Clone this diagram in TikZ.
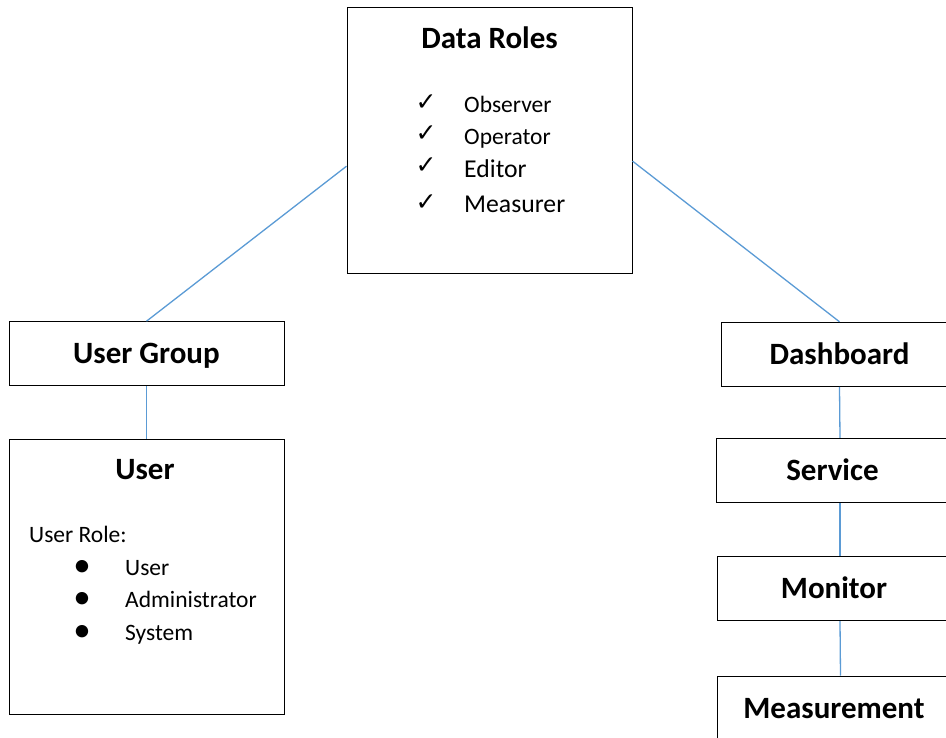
\documentclass[tikz,border=0pt]{standalone}
\usepackage{fontspec}
\setmainfont{Carlito}
\newfontfamily\tickfont{DejaVu Sans}
\definecolor{linkblue}{RGB}{91,155,213}

\begin{document}
\begin{tikzpicture}[x=1pt, y=-1pt,
    box/.style = {rectangle, draw, line width=1pt, inner sep=0pt},
    title/.style = {font=\fontsize{31}{37}\selectfont\bfseries, inner sep=0pt},
    item/.style = {font=\fontsize{23.5}{28}\selectfont, inner sep=0pt, anchor=base west},
    bigitem/.style = {font=\fontsize{25.7}{31}\selectfont, inner sep=0pt, anchor=base west},
    tick/.style = {font=\tickfont\fontsize{25}{30}\selectfont, inner sep=0pt},
    dot/.style = {font=\fontsize{35}{40}\selectfont, inner sep=0pt},
    link/.style = {draw=linkblue, line width=1.3pt}]

  \useasboundingbox (0, 0) rectangle (946, 738);
  \clip (0, 0) rectangle (946, 738);

  % Boxes.
  \node at (489.5, 141) [box, minimum width=285, minimum height=266, name=DataRoles] {};
  \node at (146.5, 353.7) [box, title, minimum width=275, minimum height=64,
                           text height=20, text depth=0, name=UserGroup] {User Group};
  \node at (146.5, 576.7) [box, minimum width=275, minimum height=275, name=User] {};
  \node at (839.5, 354.3) [box, title, minimum width=237, minimum height=64,
                           text height=20, text depth=0, name=Dashboard] {Dashboard};
  \node at (832.5, 470.3) [box, title, minimum width=233, minimum height=64,
                           text height=20, text depth=0, name=Service] {Service};
  \node at (834, 588.7) [box, title, minimum width=234, minimum height=64,
                         text height=20, text depth=0, name=Monitor] {Monitor};
  \node at (834, 708) [box, title, minimum width=234, minimum height=64,
                       text height=20, text depth=0, name=Measurement] {Measurement};

  % Data roles list.
  \node at (489.5, 49) [title, anchor=base, name=DataRolesTitle] {Data Roles};
  \node at (426, 102.5) [tick, name=ObserverTick] {✓};
  \node at (426, 134) [tick, name=OperatorTick] {✓};
  \node at (426, 166) [tick, name=EditorTick] {✓};
  \node at (426, 202.5) [tick, name=MeasurerTick] {✓};
  \node at (464, 113) [item, name=Observer] {Observer};
  \node at (464, 145) [item, name=Operator] {Operator};
  \node at (464, 178) [bigitem, name=Editor] {Editor};
  \node at (464, 213) [bigitem, name=Measurer] {Measurer};

  % User roles list.
  \node at (145, 479) [title, anchor=base, name=UserTitle] {User};
  \node at (29, 542) [item, name=UserRole] {User Role:};
  \node at (82, 568) [dot, name=UserDot] {•};
  \node at (82, 600.5) [dot, name=AdministratorDot] {•};
  \node at (82, 633) [dot, name=SystemDot] {•};
  \node at (125, 575) [item, name=UserItem] {User};
  \node at (125, 607.7) [item, name=Administrator] {Administrator};
  \node at (125, 640.5) [item, name=System] {System};

  % Links.
  \draw [link] (DataRoles.190)
               to (UserGroup.north);
  \draw [link] (DataRoles.352)
               to (Dashboard.north);
  \draw [link] (UserGroup)
               to (User);
  \draw [link] (Dashboard.south)
               -- ([xshift=0.5pt]Dashboard.south |- Service.north);
  \draw [link] ([xshift=0.5pt]Service.south -| Dashboard)
               -- ([xshift=0.5pt]Dashboard |- Monitor.north);
  \draw [link] ([xshift=0.5pt]Monitor.south -| Dashboard)
               -- ([xshift=1pt]Dashboard |- Measurement.north);
\end{tikzpicture}
\end{document}
